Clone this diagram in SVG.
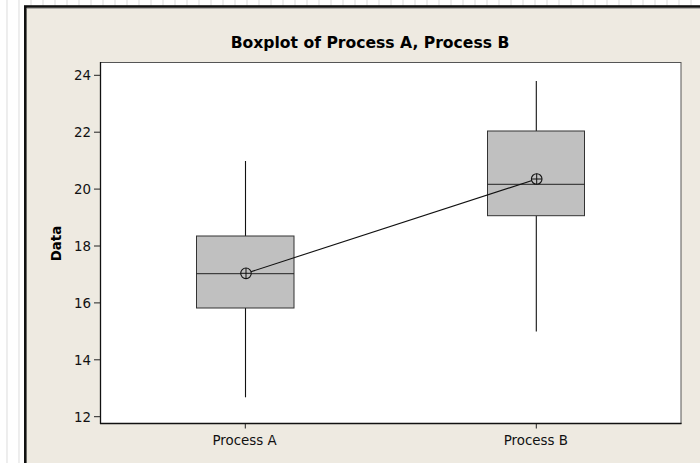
<svg xmlns="http://www.w3.org/2000/svg" width="700" height="463" viewBox="0 0 700 463">
  <style>
    .grid { stroke: #e2e2e2; stroke-width: 1.2; }
    .tick { stroke: #222; stroke-width: 1; }
    .lbl { font-family: "DejaVu Sans", Verdana, sans-serif; font-size: 13.4px; fill: #111; }
    .ttl { font-family: "DejaVu Sans", Verdana, sans-serif; font-size: 15.6px; font-weight: bold; fill: #000; }
    .axt { font-family: "DejaVu Sans", Verdana, sans-serif; font-size: 13.4px; font-weight: bold; fill: #000; }
    .box { fill: #c0c0c0; stroke: #333; stroke-width: 1; }
    .whisker { stroke: #111; stroke-width: 1.1; }
    .median { stroke: #222; stroke-width: 1; }
    .mean { fill: none; stroke: #111; stroke-width: 1.1; }
  </style>
  <defs>
    <g id="meanSymbol">
      <circle r="5.3" fill="#c0c0c0" stroke="#111" stroke-width="1.1"/>
      <line x1="-5.3" y1="0" x2="5.3" y2="0" stroke="#111" stroke-width="1"/>
      <line x1="0" y1="-5.3" x2="0" y2="5.3" stroke="#111" stroke-width="1"/>
    </g>
  </defs>

  <!-- page background with vertical grid -->
  <rect x="0" y="0" width="700" height="463" fill="#ffffff"/>
  <g id="page-grid">
    <line class="grid" x1="7" y1="0" x2="7" y2="463"/>
    <line class="grid" x1="19" y1="0" x2="19" y2="463"/>
    <path class="grid" d="M31 0V6M43 0V6M55 0V6M67 0V6M79 0V6M91 0V6M103 0V6M115 0V6M127 0V6M139 0V6M151 0V6M163 0V6M175 0V6M187 0V6M199 0V6M211 0V6M223 0V6M235 0V6M247 0V6M259 0V6M271 0V6M283 0V6M295 0V6M307 0V6M319 0V6M331 0V6M343 0V6M355 0V6M367 0V6M379 0V6M391 0V6M403 0V6M415 0V6M427 0V6M439 0V6M451 0V6M463 0V6M475 0V6M487 0V6M499 0V6M511 0V6M523 0V6M535 0V6M547 0V6M559 0V6M571 0V6M583 0V6M595 0V6M607 0V6M619 0V6M631 0V6M643 0V6M655 0V6M667 0V6M679 0V6M691 0V6"/>
  </g>

  <!-- graph window -->
  <rect x="25.3" y="6.5" width="700" height="470" fill="#eeeae1" stroke="#111" stroke-width="2.6"/>
  <line x1="27" y1="8.3" x2="700" y2="8.3" stroke="#8a8a8a" stroke-width="0.8"/>

  <!-- title -->
  <text class="ttl" x="370" y="48" text-anchor="middle">Boxplot of Process A, Process B</text>

  <!-- data region -->
  <rect x="100.5" y="62.5" width="580.5" height="361" fill="#ffffff" stroke="#555" stroke-width="1"/>
  <line x1="100.5" y1="62" x2="100.5" y2="424" stroke="#111" stroke-width="1.3"/>
  <line x1="100" y1="423.5" x2="681.5" y2="423.5" stroke="#111" stroke-width="1.3"/>

  <!-- y axis -->
  <g id="y-axis">
    <path class="tick" d="M94 75.3H100M94 132.2H100M94 189.1H100M94 246H100M94 302.9H100M94 359.8H100M94 416.7H100"/>
    <text class="lbl" x="91" y="80.3" text-anchor="end">24</text>
    <text class="lbl" x="91" y="137.2" text-anchor="end">22</text>
    <text class="lbl" x="91" y="194.1" text-anchor="end">20</text>
    <text class="lbl" x="91" y="251" text-anchor="end">18</text>
    <text class="lbl" x="91" y="307.9" text-anchor="end">16</text>
    <text class="lbl" x="91" y="364.8" text-anchor="end">14</text>
    <text class="lbl" x="91" y="421.7" text-anchor="end">12</text>
    <text class="axt" transform="translate(61,243.5) rotate(-90)" text-anchor="middle">Data</text>
  </g>

  <!-- x axis -->
  <g id="x-axis">
    <path class="tick" d="M245.3 424V428.5M536.3 424V428.5"/>
    <text class="lbl" x="244.5" y="445" text-anchor="middle">Process A</text>
    <text class="lbl" x="535.8" y="445" text-anchor="middle">Process B</text>
  </g>

  <!-- Process A -->
  <g id="box-process-a">
    <line class="whisker" x1="245.5" y1="161" x2="245.5" y2="236"/>
    <line class="whisker" x1="245.5" y1="308" x2="245.5" y2="397.3"/>
    <rect class="box" x="196.5" y="236" width="97.5" height="72"/>
    <line class="median" x1="196.5" y1="273.7" x2="294" y2="273.7"/>
  </g>

  <!-- Process B -->
  <g id="box-process-b">
    <line class="whisker" x1="536.3" y1="81" x2="536.3" y2="131"/>
    <line class="whisker" x1="536.3" y1="215.7" x2="536.3" y2="331.5"/>
    <rect class="box" x="487.5" y="131" width="97" height="84.7"/>
    <line class="median" x1="487.5" y1="184.3" x2="584.5" y2="184.3"/>
  </g>

  <!-- mean connect line and mean symbols -->
  <g id="connectors">
    <line x1="246" y1="273.3" x2="536.7" y2="179" stroke="#111" stroke-width="1.1"/>
  </g>
  <g id="mean-a"><use href="#meanSymbol" x="246" y="273.3"/></g>
  <g id="mean-b"><use href="#meanSymbol" x="536.7" y="179"/></g>
</svg>
